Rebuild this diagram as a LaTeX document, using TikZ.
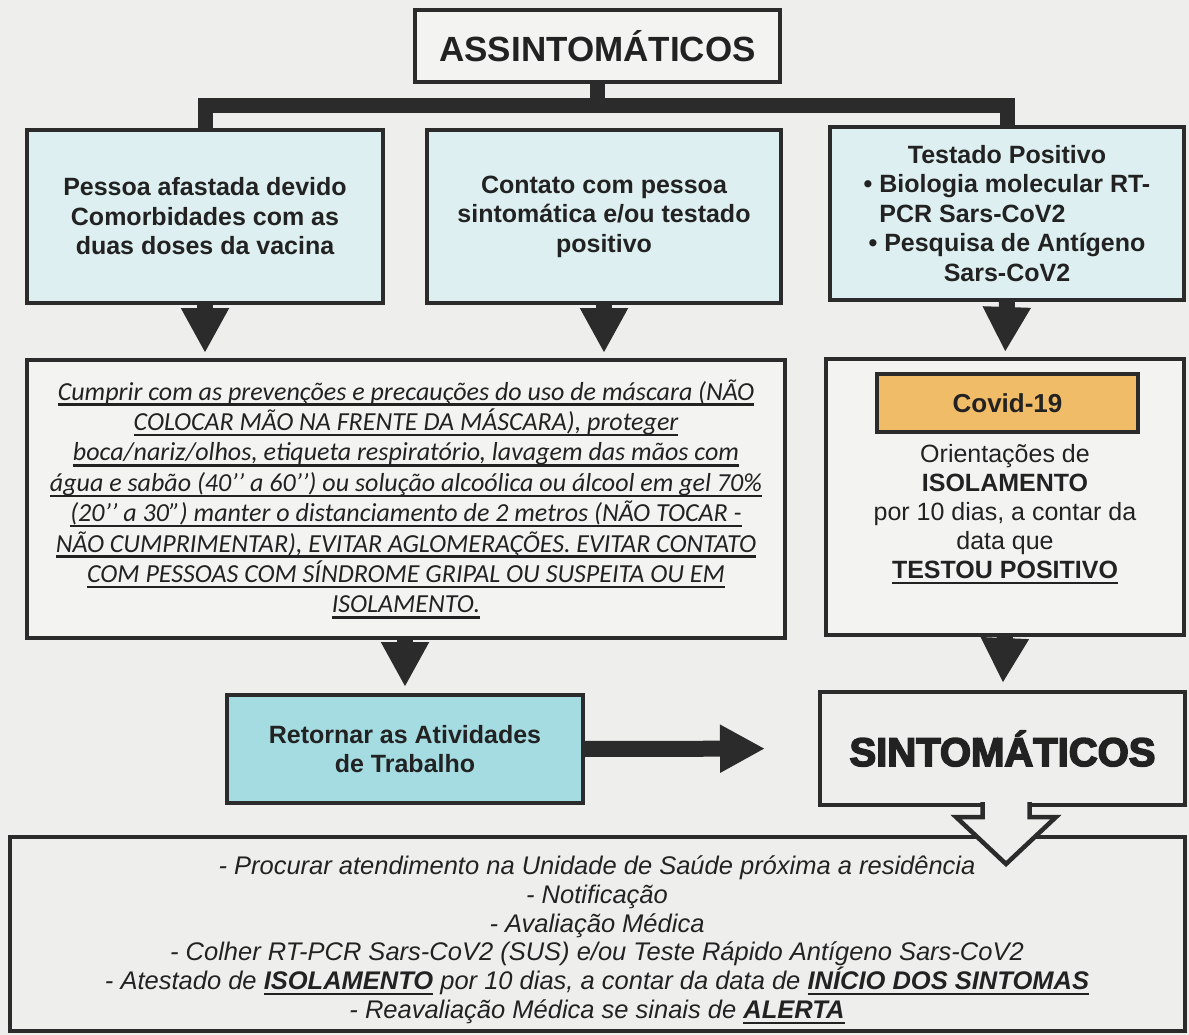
\documentclass[tikz,border=0pt]{standalone}
\usepackage{fontspec}
\setmainfont{Liberation Sans}
\newfontfamily\calibri{Carlito}
\newfontfamily\blackfont[BoldFeatures={FakeBold=4}]{Liberation Sans}
\usetikzlibrary{positioning,arrows.meta}
\newsavebox{\ulbox}
\newcommand{\ulbar}[1]{\sbox{\ulbox}{#1}\rlap{\rule[-0.22em]{\wd\ulbox}{0.09em}}\usebox{\ulbox}}
\newcommand{\boxfont}{\fontsize{25}{29.5}\selectfont}

\definecolor{bgc}{HTML}{EEEEEC}
\definecolor{linec}{HTML}{2B2B2B}
\definecolor{textc}{HTML}{222222}
\definecolor{cyanl}{HTML}{DDEFF0}
\definecolor{cyand}{HTML}{A5DCE2}
\definecolor{covidc}{HTML}{F0BC68}
\definecolor{palec}{HTML}{F3F3F1}

\begin{document}
\begin{tikzpicture}[x=1pt, y=-1pt,
	box/.style={rectangle, draw=linec, line width=4.5pt, fill=cyanl, text=textc, align=center, inner sep=0pt, outer sep=0pt, font=\boxfont\bfseries},
	fat/.style={line width=16pt, draw=linec, -{Triangle[width=45pt, length=45pt]}},
	tree/.style={line width=15pt, draw=linec, line join=miter}]
	\useasboundingbox[fill=bgc] (0,0) rectangle (1189,1035);

	\node[box, fill=palec, minimum width=365pt, minimum height=72pt, font=\fontsize{35}{40}\selectfont\bfseries] (title) at (597.5,46) {ASSINTOMÁTICOS};
	\node[box, minimum width=356pt, minimum height=173pt] (lbox) at (205,216.5) {Pessoa afastada devido\\ Comorbidades com as\\ duas doses da vacina};
	\node[box, minimum width=354pt, minimum height=173pt] (mbox) at (604,216.5) {Contato com pessoa\\ sintomática e/ou testado\\ positivo};
	\node[box, minimum width=354pt, minimum height=173pt] (rbox) at (1007,213.5) {Testado Positivo\\ • Biologia molecular RT-\\ \rlap{\hphantom{• }PCR Sars-CoV2}\hphantom{• Biologia molecular RT-}\\ • Pesquisa de Antígeno\\ Sars-CoV2};

	\node[box, fill=palec, minimum width=758pt, minimum height=278pt, font=\calibri\itshape\fontsize{26}{30.4}\selectfont] (big) at (406,499) {%
		\ulbar{Cumprir com as prevenções e precauções do uso de máscara (NÃO}\\
		\ulbar{COLOCAR MÃO NA FRENTE DA MÁSCARA), proteger}\\
		\ulbar{boca/nariz/olhos, etiqueta respiratório, lavagem das mãos com}\\
		\ulbar{água e sabão (40’’ a 60’’) ou solução alcoólica ou álcool em gel 70\%}\\
		\ulbar{(20’’ a 30”) manter o distanciamento de 2 metros (NÃO TOCAR -}\\
		\ulbar{NÃO CUMPRIMENTAR), EVITAR AGLOMERAÇÕES. EVITAR CONTATO}\\
		\ulbar{COM PESSOAS COM SÍNDROME GRIPAL OU SUSPEITA OU EM}\\
		\ulbar{ISOLAMENTO.}};
	\node[box, fill=palec, minimum width=358pt, minimum height=276pt] (rbox2) at (1005,497) {};
	\node[box, fill=covidc, minimum width=261pt, minimum height=58pt, line width=3.5pt, font=\fontsize{26}{30}\selectfont\bfseries] (covid) at (1007.5,403) {Covid-19};
	\node[align=center, text=textc, font=\fontsize{25}{29}\selectfont, inner sep=0pt] (orient) at (1005,514) {Orientações de\\ \textbf{ISOLAMENTO}\\ por 10 dias, a contar da\\ data que\\ \textbf{\ulbar{TESTOU POSITIVO}}};

	\node[box, fill=cyand, minimum width=356pt, minimum height=108pt] (ret) at (405,749) {Retornar as Atividades\\ de Trabalho};
	\node[box, fill=bgc, minimum width=365pt, minimum height=113pt, font=\fontsize{40}{44}\blackfont\bfseries] (sint) at (1002.5,748.5) {SINTOMÁTICOS};

	\node[box, fill=bgc, minimum width=1175pt, minimum height=194pt] (bottom) at (597.5,934) {};
	\node[align=center, text=textc, font=\fontsize{25.5}{28.8}\selectfont\itshape, inner sep=0pt] (steps) at (597,940) {%
		- Procurar atendimento na Unidade de Saúde próxima a residência\\
		- Notificação\\
		- Avaliação Médica\\
		- Colher RT-PCR Sars-CoV2 (SUS) e/ou Teste Rápido Antígeno Sars-CoV2\\
		- Atestado de \textbf{\ulbar{ISOLAMENTO}} por 10 dias, a contar da data de \textbf{\ulbar{INÍCIO DOS SINTOMAS}}\\
		- Reavaliação Médica se sinais de \textbf{\ulbar{ALERTA}}};

	% ligacoes
	\coordinate (bar) at (597.5,105.5);
	\draw[tree] (lbox.north) |- (bar) -| (rbox.north);
	\draw[tree] (title.south) -- (bar);

	\draw[fat, shorten >=7pt] (lbox.south) -- (lbox.south |- big.north);
	\draw[fat, shorten >=7pt] (mbox.south) -- (mbox.south |- big.north);
	\draw[fat, shorten >=7pt] (rbox.south) -- (rbox2.north);
	\draw[fat, shorten >=8pt] (big.south -| ret.north) -- (ret.north);
	\draw[fat, shorten >=9pt] (rbox2.south) -- (sint.north);
	\draw[fat, shorten >=55pt] (ret.east) -- (sint.west);

	% seta vazada
	\begin{scope}[shift={(sint.south)}]
		\fill[bgc] (-20,-3) -- (-20,12) -- (-46.5,12) -- (3.5,59) -- (53.5,12) -- (27,12) -- (27,-3) -- cycle;
		\draw[linec, line width=4.5pt, line join=miter] (-20,-3) -- (-20,12) -- (-46.5,12) -- (3.5,59) -- (53.5,12) -- (27,12) -- (27,-3);
	\end{scope}
\end{tikzpicture}
\end{document}
